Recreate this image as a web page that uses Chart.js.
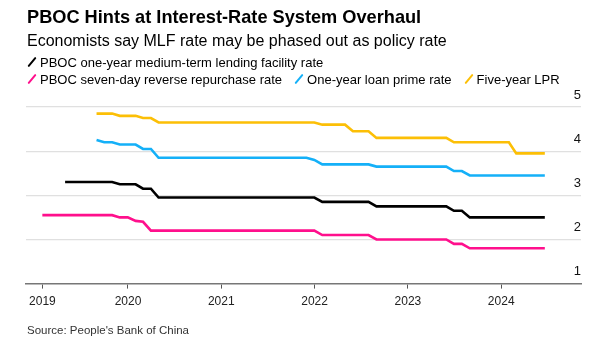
<!DOCTYPE html>
<html>
<head>
<meta charset="utf-8">
<script src="https://cdn.jsdelivr.net/npm/chart.js@4.4.1/dist/chart.umd.min.js"></script>
<style>
  body { margin: 0; width: 601px; height: 354px; background: #fff; position: relative; overflow: hidden;
         font-family: "Liberation Sans", Arial, sans-serif; color: #000; }
  #chart { position: absolute; left: 0; top: 0; }
  #title { position: absolute; left: 27px; top: 8px; font-size: 18.2px; line-height: 18px; font-weight: bold; }
  #sub { position: absolute; left: 27px; top: 33px; font-size: 16px; line-height: 16px; }
  #legend { position: absolute; left: 27px; top: 55px; font-size: 13px; line-height: 16.5px; width: 570px; }
  .item { display: inline-block; margin-right: 12px; white-space: nowrap; }
  .mk { display: inline-block; width: 2px; height: 12px; transform: rotate(40deg); margin: 0 7px 0 4px;
        vertical-align: -1px; border-radius: 1px; }
  #src { position: absolute; left: 27px; top: 324px; font-size: 11.5px; line-height: 12px; color: #333; }
</style>
</head>
<body>
<canvas id="chart" width="601" height="354"></canvas>
<div id="title">PBOC Hints at Interest-Rate System Overhaul</div>
<div id="sub">Economists say MLF rate may be phased out as policy rate</div>
<div id="legend"></div>
<div id="src">Source: People's Bank of China</div>
<script>
// month-end observations, last one is a mid-month reading
var months = [
  '2019-01','2019-02','2019-03','2019-04','2019-05','2019-06','2019-07','2019-08','2019-09','2019-10','2019-11','2019-12',
  '2020-01','2020-02','2020-03','2020-04','2020-05','2020-06','2020-07','2020-08','2020-09','2020-10','2020-11','2020-12',
  '2021-01','2021-02','2021-03','2021-04','2021-05','2021-06','2021-07','2021-08','2021-09','2021-10','2021-11','2021-12',
  '2022-01','2022-02','2022-03','2022-04','2022-05','2022-06','2022-07','2022-08','2022-09','2022-10','2022-11','2022-12',
  '2023-01','2023-02','2023-03','2023-04','2023-05','2023-06','2023-07','2023-08','2023-09','2023-10','2023-11','2023-12',
  '2024-01','2024-02','2024-03','2024-04','2024-05','2024-06-20'
];

var mlf = [
  null,null,null,3.30,3.30,3.30,3.30,3.30,3.30,3.30,3.25,3.25,
  3.25,3.15,3.15,2.95,2.95,2.95,2.95,2.95,2.95,2.95,2.95,2.95,
  2.95,2.95,2.95,2.95,2.95,2.95,2.95,2.95,2.95,2.95,2.95,2.95,
  2.85,2.85,2.85,2.85,2.85,2.85,2.85,2.75,2.75,2.75,2.75,2.75,
  2.75,2.75,2.75,2.75,2.75,2.65,2.65,2.50,2.50,2.50,2.50,2.50,
  2.50,2.50,2.50,2.50,2.50,2.50
];
var repo7d = [
  2.55,2.55,2.55,2.55,2.55,2.55,2.55,2.55,2.55,2.55,2.50,2.50,
  2.42,2.40,2.20,2.20,2.20,2.20,2.20,2.20,2.20,2.20,2.20,2.20,
  2.20,2.20,2.20,2.20,2.20,2.20,2.20,2.20,2.20,2.20,2.20,2.20,
  2.10,2.10,2.10,2.10,2.10,2.10,2.10,2.00,2.00,2.00,2.00,2.00,
  2.00,2.00,2.00,2.00,2.00,1.90,1.90,1.80,1.80,1.80,1.80,1.80,
  1.80,1.80,1.80,1.80,1.80,1.80
];
var lpr1y = [
  null,null,null,null,null,null,null,4.25,4.20,4.20,4.15,4.15,
  4.15,4.05,4.05,3.85,3.85,3.85,3.85,3.85,3.85,3.85,3.85,3.85,
  3.85,3.85,3.85,3.85,3.85,3.85,3.85,3.85,3.85,3.85,3.85,3.80,
  3.70,3.70,3.70,3.70,3.70,3.70,3.70,3.65,3.65,3.65,3.65,3.65,
  3.65,3.65,3.65,3.65,3.65,3.55,3.55,3.45,3.45,3.45,3.45,3.45,
  3.45,3.45,3.45,3.45,3.45,3.45
];
var lpr5y = [
  null,null,null,null,null,null,null,4.85,4.85,4.85,4.80,4.80,
  4.80,4.75,4.75,4.65,4.65,4.65,4.65,4.65,4.65,4.65,4.65,4.65,
  4.65,4.65,4.65,4.65,4.65,4.65,4.65,4.65,4.65,4.65,4.65,4.65,
  4.60,4.60,4.60,4.60,4.45,4.45,4.45,4.30,4.30,4.30,4.30,4.30,
  4.30,4.30,4.30,4.30,4.30,4.20,4.20,4.20,4.20,4.20,4.20,4.20,
  4.20,3.95,3.95,3.95,3.95,3.95
];

var seriesNames = ['PBOC one-year medium-term lending facility rate', 'PBOC seven-day reverse repurchase rate',
                   'One-year loan prime rate', 'Five-year LPR'];
var colors = ['#000000', '#ff0f8c', '#14b0f8', '#fcbf06'];

var tickYears = [2019.083, 2020, 2021, 2022, 2023, 2024];
var tickLabels = ['2019', '2020', '2021', '2022', '2023', '2024'];
var yTicks = [1, 2, 3, 4, 5];

// 'YYYY-MM' = end of month, 'YYYY-MM-DD' = that day
function toYear(s) {
  var p = s.split('-');
  var y = +p[0], m = +p[1];
  var d = p[2] ? new Date(Date.UTC(y, m - 1, +p[2])) : new Date(Date.UTC(y, m, 0));
  var start = Date.UTC(y, 0, 1), end = Date.UTC(y + 1, 0, 1);
  return y + (d - start) / (end - start);
}

function points(vals) {
  var out = [];
  for (var i = 0; i < vals.length; i++) {
    if (vals[i] !== null) out.push({ x: toYear(months[i]), y: vals[i] });
  }
  return out;
}

// legend rows
var rows = [[0], [1, 2, 3]];
var leg = document.getElementById('legend');
rows.forEach(function(r) {
  var div = document.createElement('div');
  r.forEach(function(i) {
    var s = document.createElement('span');
    s.className = 'item';
    s.innerHTML = '<span class="mk" style="background:' + colors[i] + '"></span>' + seriesNames[i];
    div.appendChild(s);
  });
  leg.appendChild(div);
});

var fam = '"Liberation Sans", Arial, sans-serif';
var all = [mlf, repo7d, lpr1y, lpr5y];

var chart = new Chart(document.getElementById('chart'), {
  type: 'line',
  data: {
    datasets: all.map(function(v, i) {
      return {
        label: seriesNames[i],
        data: points(v),
        borderColor: colors[i],
        borderWidth: 2.6,
        pointRadius: 0,
        tension: 0,
        fill: false
      };
    })
  },
  options: {
    responsive: false,
    animation: false,
    layout: { padding: { left: 26, right: 20, top: 107, bottom: 39 } },
    plugins: { legend: { display: false }, tooltip: { enabled: false } },
    scales: {
      x: {
        type: 'linear',
        min: 2018.907,
        max: 2024.855,
        afterBuildTicks: function(s) { s.ticks = tickYears.map(function(v) { return { value: v }; }); },
        ticks: {
          autoSkip: false, maxRotation: 0, padding: 6, color: '#222',
          font: { family: fam, size: 12 },
          callback: function(v, i) { return tickLabels[i]; }
        },
        grid: { drawOnChartArea: false, drawTicks: true, tickLength: 5, color: '#555', lineWidth: 1 },
        border: { display: true, color: '#777', width: 1.5 }
      },
      y: {
        position: 'right',
        min: 1,
        max: 5,
        afterBuildTicks: function(s) { s.ticks = yTicks.map(function(v) { return { value: v }; }); },
        ticks: {
          mirror: true, labelOffset: -12, padding: 0, color: '#111',
          font: { family: fam, size: 13 }
        },
        grid: {
          drawTicks: false, lineWidth: 1.3,
          color: function(c) { return c.tick && c.tick.value === 1 ? 'rgba(0,0,0,0)' : '#e0e0e0'; }
        },
        border: { display: false }
      }
    }
  }
});
</script>
</body>
</html>
